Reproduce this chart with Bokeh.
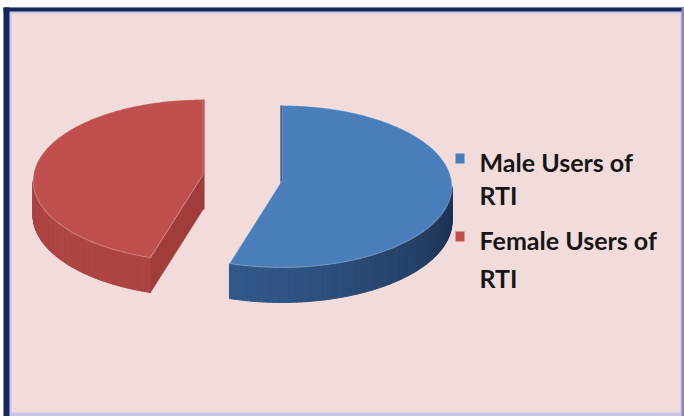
import numpy as np
from bokeh.plotting import figure
from bokeh.models import Range1d, ColumnDataSource
from bokeh.core.properties import value
from bokeh.embed import file_html
from bokeh.resources import INLINE

# ---------------- data ----------------
categories = ["Male Users of RTI", "Female Users of RTI"]
legend_line1 = ["Male Users of", "Female Users of"]
legend_line2 = ["RTI", "RTI"]
shares = [55, 45]
top_colors = ["#4a7ebb", "#c0504d"]
wall_light = ["#335b8e", "#ad4542"]
wall_dark = ["#172a46", "#8e3331"]
cut_colors = ["#22406a", "#a03c3a"]

# ---------------- layout ----------------
W, H = 684, 416
cx0, cy0 = 242.0, 177.0      # pie centre (pixels)
rx, ry = 170.0, 81.0         # radii of top face ellipse
d_off = 6.0                  # perspective: ellipse centre sits below the apex
depth = 35.0
explode = 0.235

p = figure(width=W, height=H, x_range=Range1d(0, W), y_range=Range1d(H, 0),
           output_backend="svg", toolbar_location=None, min_border=0,
           x_axis_location=None, y_axis_location=None)
p.grid.visible = False
p.outline_line_color = None
p.background_fill_color = "white"
p.border_fill_color = "white"

# frame / border
p.quad(left=[3], right=[684], top=[7], bottom=[416], fill_color="#c9c6e6", line_color=None)
p.quad(left=[11], right=[680], top=[13], bottom=[412], fill_color="#f2dcdb", line_color=None)
p.quad(left=[3], right=[684], top=[7], bottom=[11], fill_color="#17295c", line_color=None)
p.quad(left=[3], right=[9], top=[7], bottom=[416], fill_color="#17295c", line_color=None)
p.quad(left=[681], right=[684], top=[7], bottom=[416], fill_color="#8a88b8", line_color=None)


def hex2rgb(h):
    h = h.lstrip("#")
    return np.array([int(h[i:i + 2], 16) for i in (0, 2, 4)], dtype=float)


def rgb2hex(c):
    c = np.clip(np.round(c), 0, 255).astype(int)
    return "#%02x%02x%02x" % tuple(c)


def pt(theta, vx, vy, dz=0.0):
    return vx + rx * np.sin(theta), vy + d_off - ry * np.cos(theta) + dz


total = float(sum(shares))
start = 0.0
for i, s in enumerate(shares):
    a0 = start
    a1 = start + 2 * np.pi * s / total
    start = a1
    mid = 0.5 * (a0 + a1)
    vx = cx0 + explode * rx * np.sin(mid)
    vy = cy0 - explode * ry * np.cos(mid)

    # radial cut faces: outward normal of face at a0 points to a0-90deg,
    # of face at a1 to a1+90deg; "front" is the 180deg direction
    for ang, ndir in ((a0, a0 - np.pi / 2), (a1, a1 + np.pi / 2)):
        c = np.cos(ndir)
        ex, ey = pt(ang, vx, vy)
        if c < -0.05:
            p.patch([vx, ex, ex, vx], [vy, ey, ey + depth, vy + depth],
                    fill_color=cut_colors[i], line_color=cut_colors[i], line_width=0.5)
        elif abs(c) <= 0.05:
            p.line([ex, vx], [ey, vy + depth], line_color=cut_colors[i], line_width=3)

    # outer wall visible between 90 and 270 degrees
    w0 = max(a0, np.pi / 2)
    w1 = min(a1, 3 * np.pi / 2)
    if w1 > w0:
        n = int(np.ceil((w1 - w0) / np.radians(1)))
        edges = np.linspace(w0, w1, n + 1)
        xs, ys, cols = [], [], []
        lt, dk = hex2rgb(wall_light[i]), hex2rgb(wall_dark[i])
        for k in range(n):
            t = np.linspace(edges[k], edges[k + 1], 3)
            px, py = pt(t, vx, vy)
            xs.append(list(px) + list(px[::-1]))
            ys.append(list(py) + list(py[::-1] + depth))
            tm = 0.5 * (edges[k] + edges[k + 1])
            f = 0.5 + 0.5 * np.cos(tm - np.radians(225))
            cols.append(rgb2hex(dk + (lt - dk) * f))
        src = ColumnDataSource(dict(xs=xs, ys=ys, c=cols))
        p.patches("xs", "ys", source=src, fill_color="c", line_color="c", line_width=1)

    # top face
    t = np.linspace(a0, a1, 200)
    px, py = pt(t, vx, vy)
    p.patch([vx] + list(px), [vy] + list(py), fill_color=top_colors[i],
            line_color="#ffffff", line_alpha=0.25, line_width=1.2)

# legend
leg_x = 455
txt_x = 479
line1_y = [161, 239]
line2_y = [194, 277]
sq_top = [153, 231]
p.quad(left=[leg_x] * 2, right=[leg_x + 9] * 2, top=sq_top, bottom=[v + 10 for v in sq_top],
       fill_color=top_colors, line_color=None)
p.text(x=[txt_x] * 2, y=line1_y, text=legend_line1, text_font=value("Lato"),
       text_font_style="bold", text_font_size="25px", text_color="#161616",
       text_baseline="alphabetic")
p.text(x=[txt_x] * 2, y=line2_y, text=legend_line2, text_font=value("Lato"),
       text_font_style="bold", text_font_size="25px", text_color="#161616",
       text_baseline="alphabetic")

open("out.html", "w").write(file_html(p, INLINE))
